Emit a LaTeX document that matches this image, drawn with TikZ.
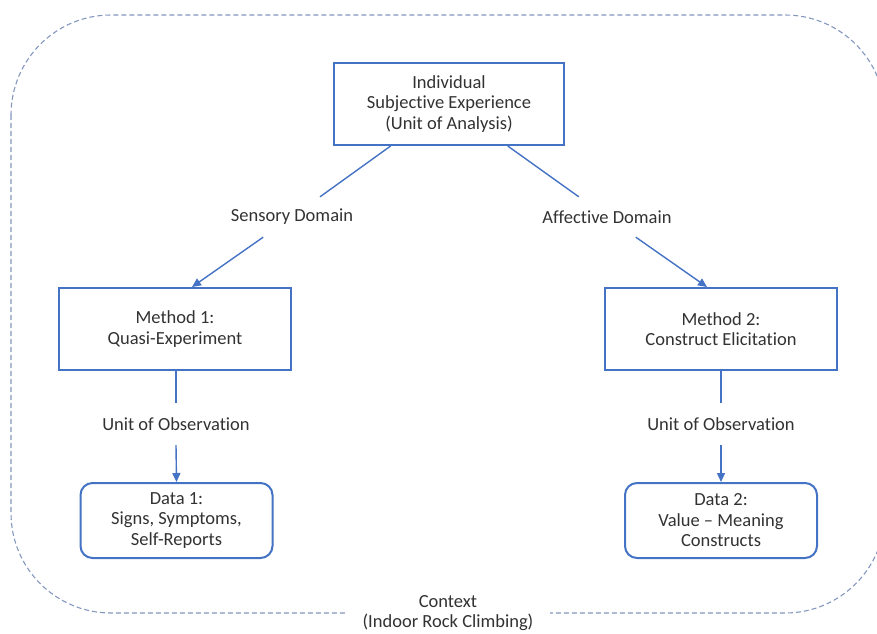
\documentclass[tikz,border=0pt]{standalone}
\usepackage{fontspec}
\setmainfont[Ligatures={NoCommon}]{Carlito}
\usetikzlibrary{arrows.meta}
\definecolor{boxblue}{RGB}{68,114,196}
\definecolor{txtgray}{RGB}{50,50,50}
\definecolor{dashgray}{RGB}{132,151,190}
\begin{document}
\begin{tikzpicture}[x=1pt,y=-1pt,
  every node/.style={font=\fontsize{18.5}{20.5}\selectfont, text=txtgray, align=center},
  mainbox/.style={draw=boxblue, line width=2pt, minimum width=232pt, minimum height=82pt, inner sep=0pt},
  databox/.style={draw=boxblue, line width=2pt, rounded corners=12pt, minimum width=192pt, minimum height=75pt, inner sep=0pt},
  lbl/.style={minimum height=40pt, inner sep=4pt},
  conn/.style={draw=boxblue, line width=1.4pt},
  arr/.style={conn, -{Triangle[length=9pt,width=8pt]}},
  ctx/.style={draw=dashgray, line width=1.1pt, dash pattern=on 5pt off 3pt}
]
\useasboundingbox (0,0) rectangle (877,633);
\begin{scope}
  \clip (0,0) rectangle (877,633);
  \draw[ctx, rounded corners=100pt] (11,15) rectangle (885,613);
\end{scope}
\node[fill=white, inner xsep=17pt, inner ysep=1pt] (context) at (448,613) {Context\\(Indoor Rock Climbing)};

\node[mainbox, minimum width=230pt] (top) at (449,104) {Individual\\Subjective Experience\\(Unit of Analysis)};
\node[mainbox] (m1) at (175,329) {Method 1:\\Quasi-Experiment};
\node[mainbox] (m2) at (721,329) {Method 2:\\Construct Elicitation};
\node[databox] (d1) at (176.5,520.5) {Data 1:\\Signs, Symptoms,\\Self-Reports};
\node[databox] (d2) at (721,520.5) {Data 2:\\Value -- Meaning\\Constructs};

\node[lbl] (sens) at (292,217) {Sensory Domain};
\node[lbl] (aff) at (607,217) {Affective Domain};
\node[lbl, minimum height=42pt] (uo1) at (176,424) {Unit of Observation};
\node[lbl, minimum height=42pt] (uo2) at (721,424) {Unit of Observation};

\draw[conn] (top) -- (sens);
\draw[arr] (sens) -- ([xshift=17pt]m1.north);
\draw[conn] (top) -- (aff);
\draw[arr] (aff) -- ([xshift=-14pt]m2.north);
\draw[conn] ([xshift=1pt]m1.south) -- (uo1.north);
\draw[arr] (uo1.south) -- (d1.north);
\draw[conn] (m2.south) -- (uo2.north);
\draw[arr] (uo2.south) -- (d2.north);
\end{tikzpicture}
\end{document}
